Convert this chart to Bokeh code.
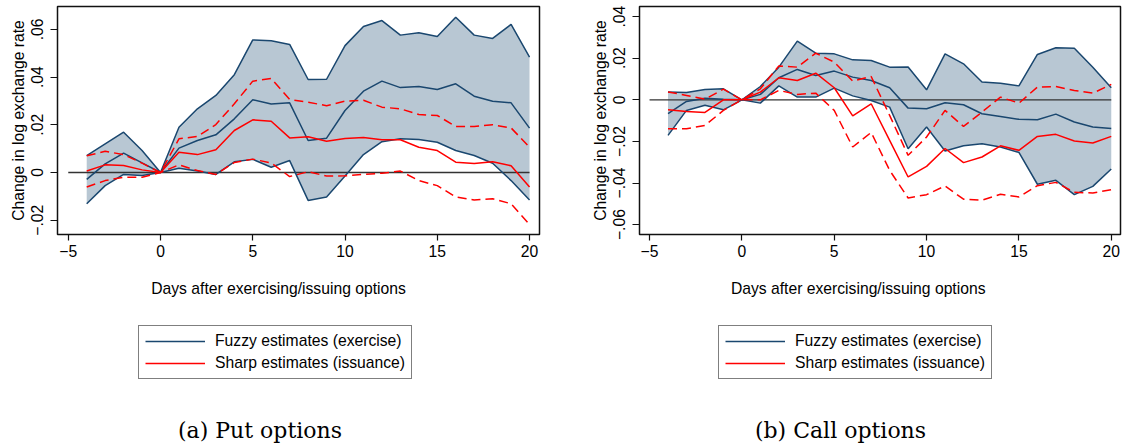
from bokeh.plotting import figure
from bokeh.models import (Range1d, FixedTicker, CustomJSTickFormatter, Legend, LegendItem)
from bokeh.layouts import row, column
from bokeh.core.properties import value
from bokeh.embed import file_html
from bokeh.resources import INLINE

# ---------------- data ----------------
days = [-4, -3, -2, -1, 0, 1, 2, 3, 4, 5, 6, 7, 8, 9, 10, 11, 12, 13, 14, 15, 16, 17, 18, 19, 20]
zero_line_days = [-5, 20]
zero_line_vals = [0, 0]

# (a) Put options
fuzzy_hi_put = [0.0071, 0.0120, 0.0169, 0.0092, 0, 0.0190, 0.0267, 0.0323, 0.0410, 0.0556, 0.0552, 0.0537, 0.0390,
                0.0391, 0.0532, 0.0612, 0.0637, 0.0576, 0.0586, 0.0570, 0.0651, 0.0576, 0.0562, 0.0621, 0.0484]
fuzzy_mid_put = [-0.0029, 0.0036, 0.0081, 0.0040, 0, 0.0102, 0.0134, 0.0158, 0.0225, 0.0305, 0.0287, 0.0292, 0.0134,
                 0.0144, 0.0260, 0.0341, 0.0383, 0.0356, 0.0361, 0.0348, 0.0372, 0.0320, 0.0299, 0.0292, 0.0186]
fuzzy_lo_put = [-0.0131, -0.0055, -0.0008, -0.0013, 0, 0.0018, 0.0006, -0.0008, 0.0045, 0.0055, 0.0022, 0.0050, -0.0117,
                -0.0103, -0.0015, 0.0075, 0.0129, 0.0141, 0.0138, 0.0127, 0.0092, 0.0071, 0.0039, -0.0034, -0.0115]
sharp_mid_put = [0.0006, 0.0032, 0.0029, 0.0011, 0, 0.0085, 0.0075, 0.0095, 0.0176, 0.0221, 0.0215, 0.0145, 0.0150,
                 0.0131, 0.0143, 0.0147, 0.0137, 0.0137, 0.0106, 0.0092, 0.0043, 0.0038, 0.0045, 0.0028, -0.0061]
sharp_hi_put = [0.0070, 0.0089, 0.0075, 0.0039, 0, 0.0141, 0.0151, 0.0201, 0.0288, 0.0383, 0.0394, 0.0306, 0.0295,
                0.0280, 0.0299, 0.0303, 0.0274, 0.0267, 0.0243, 0.0239, 0.0193, 0.0193, 0.0200, 0.0187, 0.0106]
sharp_lo_put = [-0.0061, -0.0034, -0.0020, -0.0020, 0, 0.0032, 0.0008, -0.0008, 0.0042, 0.0056, 0.0040, -0.0017, 0.0003,
                -0.0015, -0.0014, -0.0008, -0.0003, 0.0006, -0.0034, -0.0055, -0.0103, -0.0115, -0.0110, -0.0131, -0.0218]

# (b) Call options
fuzzy_hi_call = [0.0037, 0.0035, 0.0050, 0.0053, 0, 0.0064, 0.0157, 0.0282, 0.0224, 0.0221, 0.0192, 0.0189, 0.0157,
                 0.0158, 0.0048, 0.0221, 0.0173, 0.0086, 0.0080, 0.0067, 0.0218, 0.0250, 0.0248, 0.0157, 0.0058]
fuzzy_mid_call = [-0.0067, -0.0008, 0.0008, 0.0003, 0, 0.0026, 0.0106, 0.0146, 0.0117, 0.0138, 0.0109, 0.0093, 0.0058,
                  -0.0040, -0.0043, -0.0014, -0.0024, -0.0067, -0.0080, -0.0094, -0.0096, -0.0069, -0.0107, -0.0131, -0.0138]
fuzzy_lo_call = [-0.0171, -0.0051, -0.0026, -0.0048, 0, -0.0016, 0.0067, 0.0013, 0.0013, 0.0056, 0.0019, -0.0003, -0.0035,
                 -0.0235, -0.0131, -0.0246, -0.0221, -0.0211, -0.0227, -0.0253, -0.0406, -0.0387, -0.0456, -0.0416, -0.0333]
sharp_mid_call = [-0.0048, -0.0056, -0.0061, 0.0000, 0, 0.0037, 0.0106, 0.0093, 0.0128, 0.0058, -0.0077, -0.0019, -0.0195,
                  -0.0371, -0.0320, -0.0234, -0.0302, -0.0275, -0.0221, -0.0243, -0.0176, -0.0166, -0.0198, -0.0208, -0.0176]
sharp_hi_call = [0.0038, 0.0021, 0.0003, 0.0051, 0, 0.0053, 0.0163, 0.0157, 0.0224, 0.0181, 0.0090, 0.0112, -0.0075,
                 -0.0267, -0.0179, -0.0051, -0.0128, -0.0059, 0.0013, -0.0016, 0.0061, 0.0064, 0.0045, 0.0032, 0.0074]
sharp_lo_call = [-0.0139, -0.0139, -0.0123, -0.0051, 0, 0.0000, 0.0045, 0.0026, 0.0032, -0.0051, -0.0227, -0.0157, -0.0339,
                 -0.0472, -0.0456, -0.0414, -0.0478, -0.0483, -0.0454, -0.0467, -0.0413, -0.0397, -0.0445, -0.0448, -0.0432]

x_ticks = [-5, 0, 5, 10, 15, 20]
x_tick_labels = ["\u22125", "0", "5", "10", "15", "20"]
y_ticks_put = [-0.02, 0, 0.02, 0.04, 0.06]
y_tick_labels_put = ["\u2212.02", "0", ".02", ".04", ".06"]
y_ticks_call = [-0.06, -0.04, -0.02, 0, 0.02, 0.04]
y_tick_labels_call = ["\u2212.06", "\u2212.04", "\u2212.02", "0", ".02", ".04"]

x_title = "Days after exercising/issuing options"
y_title = "Change in log exchange rate"
legend_labels = ["Fuzzy estimates (exercise)", "Sharp estimates (issuance)"]
captions = ["(a) Put options", "(b) Call options"]

# ---------------- style ----------------
NAVY = "#1a476f"
RED = "#ff0000"
BAND = "#b8c7d3"
SANS = "Liberation Sans"
SERIF = "DejaVu Serif"
FS = "15.7px"
TOP_H = 264
BOT_H = 183

FMT_CODE = """
let best = -1, bd = 1e9;
for (let i = 0; i < tv.length; i++) {
  const d = Math.abs(tv[i] - tick);
  if (d < bd) { bd = d; best = i; }
}
return (best >= 0 && bd < 1e-7) ? tl[best] : "";
"""


def make_plot(width, mb_left, mb_right, xr, yr, yt, ytl, hi, mid, lo, shi, smid, slo):
    p = figure(width=width, height=TOP_H, output_backend="svg", toolbar_location=None,
               x_range=Range1d(*xr), y_range=Range1d(*yr),
               min_border_left=mb_left, min_border_right=mb_right,
               min_border_top=6, min_border_bottom=30)
    p.grid.visible = False
    p.outline_line_color = "#111111"
    p.outline_line_width = 1.5
    p.background_fill_color = "white"
    p.border_fill_color = "white"

    p.varea(x=days, y1=lo, y2=hi, fill_color=BAND, fill_alpha=1.0)
    p.line(x=zero_line_days, y=zero_line_vals, line_color="#333333", line_width=1.3)
    for ys in (hi, lo):
        p.line(x=days, y=ys, line_color=NAVY, line_width=1.5)
    p.line(x=days, y=mid, line_color=NAVY, line_width=1.5)
    for ys in (shi, slo):
        p.line(x=days, y=ys, line_color=RED, line_width=1.5, line_dash="9 5")
    p.line(x=days, y=smid, line_color=RED, line_width=1.5)

    for ax in (p.xaxis[0], p.yaxis[0]):
        ax.axis_line_color = None
        ax.major_tick_line_color = "#111111"
        ax.major_tick_line_width = 1.2
        ax.major_tick_in = 0
        ax.major_tick_out = 7
        ax.minor_tick_line_color = None
        ax.major_label_text_font = SANS
        ax.major_label_text_font_size = FS
        ax.major_label_text_color = "black"
        ax.axis_label_text_font = SANS
        ax.axis_label_text_font_size = FS
        ax.axis_label_text_font_style = "normal"
        ax.axis_label_text_color = "black"

    p.xaxis.ticker = FixedTicker(ticks=x_ticks)
    p.xaxis.formatter = CustomJSTickFormatter(args=dict(tv=x_ticks, tl=x_tick_labels), code=FMT_CODE)
    p.xaxis.major_label_standoff = 4
    p.xaxis.major_tick_out = 6

    p.yaxis.ticker = FixedTicker(ticks=yt)
    p.yaxis.formatter = CustomJSTickFormatter(args=dict(tv=yt, tl=ytl), code=FMT_CODE)
    p.yaxis.major_label_orientation = "vertical"
    p.yaxis.major_label_standoff = 7
    p.yaxis.axis_label = y_title
    p.yaxis.axis_label_standoff = 2
    return p


def make_bottom(width, mb_left, mb_right, xlab_x, cap_x, leg_x, caption, mid, smid):
    # frame aligned with the plot frame above; x data units = pixels from frame left
    fw = width - mb_left - mb_right
    q = figure(width=width, height=BOT_H, output_backend="svg", toolbar_location=None,
               x_axis_type=None, y_axis_type=None,
               x_range=Range1d(0, fw), y_range=Range1d(0, BOT_H),
               min_border=0, min_border_left=mb_left, min_border_right=mb_right,
               min_border_top=0, min_border_bottom=0)
    q.grid.visible = False
    q.outline_line_color = None
    q.text(x=[xlab_x], y=[159], text=[x_title], text_font=value(SANS), text_font_size=FS,
           text_align="center", text_baseline="alphabetic", text_color="black")
    q.text(x=[cap_x], y=[17], text=[caption], text_font=value(SERIF), text_font_size="22px",
           text_align="center", text_baseline="alphabetic", text_color="black")
    # legend keys: series drawn on an off-screen range so only their legend glyphs show
    q.extra_y_ranges = {"offscreen": Range1d(10, 11)}
    r1 = q.line(x=days, y=mid, line_color=NAVY, line_width=1.5, y_range_name="offscreen")
    r2 = q.line(x=days, y=smid, line_color=RED, line_width=1.5, y_range_name="offscreen")
    leg = Legend(items=[LegendItem(label=legend_labels[0], renderers=[r1]),
                        LegendItem(label=legend_labels[1], renderers=[r2])],
                 location=(leg_x, 68), orientation="vertical",
                 label_text_font=SANS, label_text_font_size=FS, label_text_color="black",
                 glyph_width=60, glyph_height=16, label_height=16, label_standoff=10,
                 padding=6, spacing=4, margin=0,
                 border_line_color="black", border_line_width=1,
                 background_fill_color="white", background_fill_alpha=1.0)
    q.add_layout(leg)
    return q


p1 = make_plot(580, 57, 41, (-5.583, 20.54), (-0.026, 0.0696), y_ticks_put, y_tick_labels_put,
               fuzzy_hi_put, fuzzy_mid_put, fuzzy_lo_put, sharp_hi_put, sharp_mid_put, sharp_lo_put)
p2 = make_plot(543, 59, 3, (-5.544, 20.50), (-0.06476, 0.04486), y_ticks_call, y_tick_labels_call,
               fuzzy_hi_call, fuzzy_mid_call, fuzzy_lo_call, sharp_hi_call, sharp_mid_call, sharp_lo_call)

q1 = make_bottom(580, 57, 41, 221, 202.5, 81, captions[0], fuzzy_mid_put, sharp_mid_put)
q2 = make_bottom(543, 59, 3, 218.7, 201, 79, captions[1], fuzzy_mid_call, sharp_mid_call)

layout = row(column(p1, q1), column(p2, q2))

open("out.html", "w").write(file_html(layout, INLINE))
